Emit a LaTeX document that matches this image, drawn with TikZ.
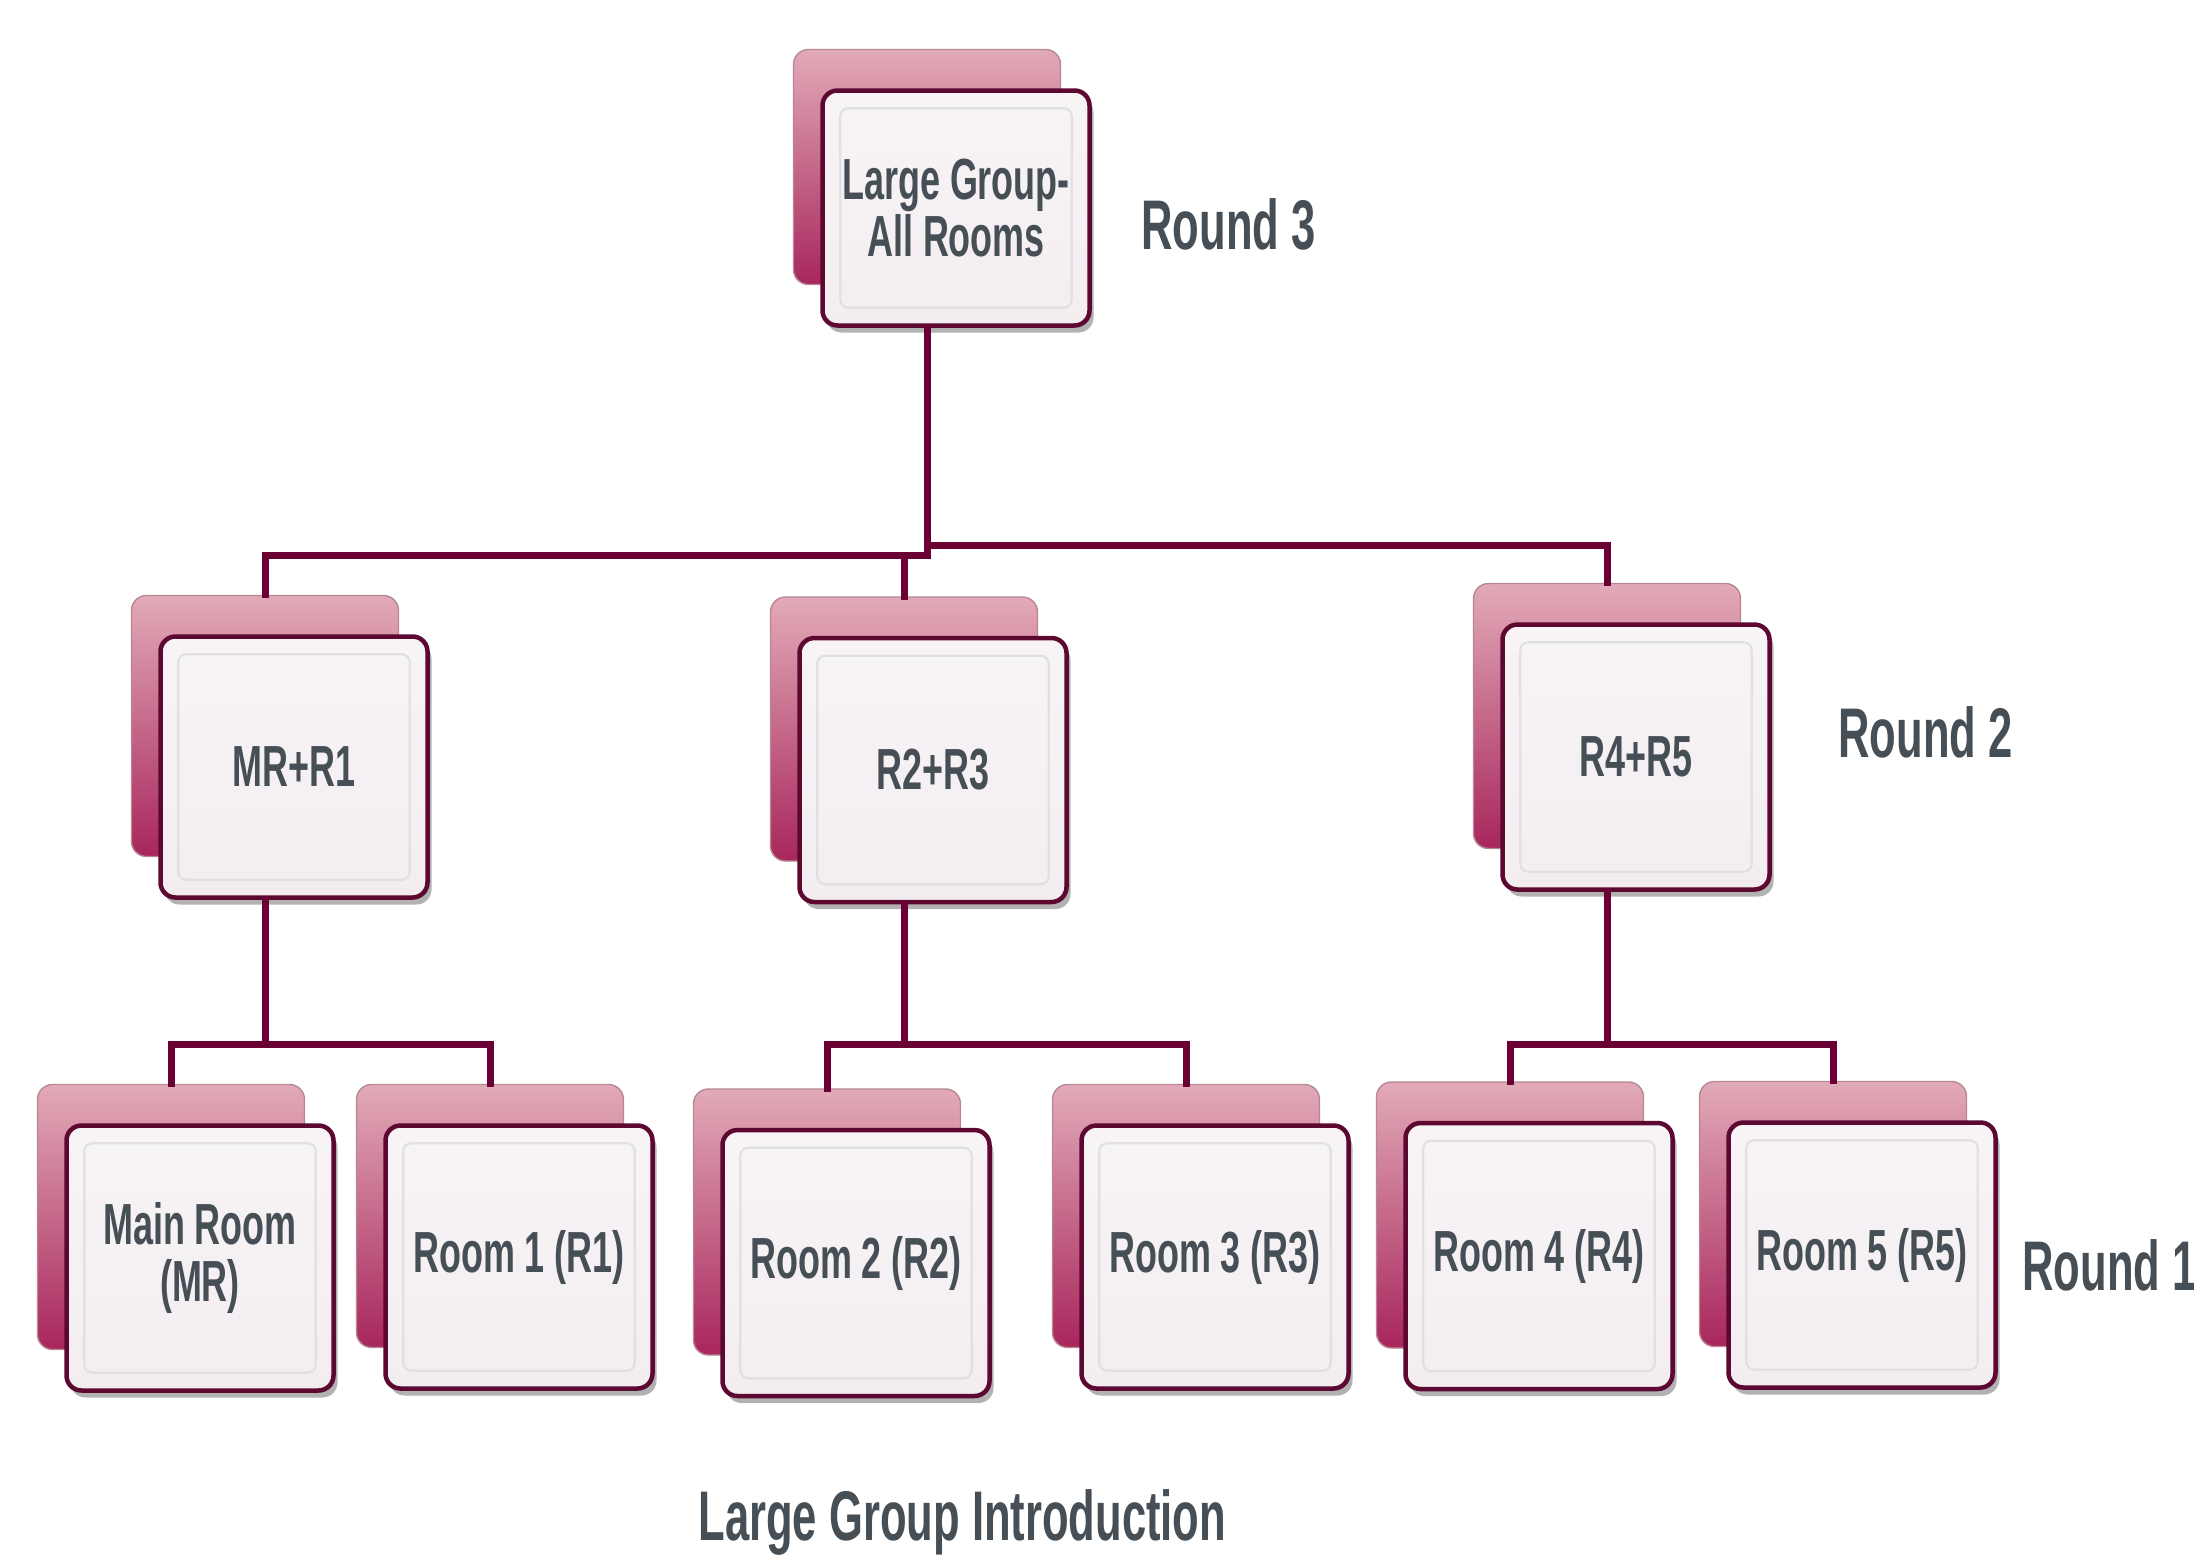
\documentclass[tikz,border=0pt]{standalone}
\usepackage{fontspec}
\setmainfont{Liberation Sans}[FakeStretch=0.62]
\usetikzlibrary{calc,shadows}
\definecolor{wine}{RGB}{106,0,51}
\definecolor{boxline}{RGB}{92,8,48}
\definecolor{rosetop}{RGB}{226,170,184}
\definecolor{rosebot}{RGB}{168,38,92}
\definecolor{paper}{RGB}{243,237,240}
\definecolor{ink}{RGB}{70,78,86}
\def\roombox(#1)(#2:#3)#4{% name, centre : height, label
  \node[backbox, minimum height=#3cm] (#1-back) at ($(#2)+(-0.29,0.41)$) {};
  \node[frontbox, minimum height=#3cm] (#1) at (#2) {#4};
  \draw[bevel] ($(#1.south west)+(0.2,0.2)$) rectangle ($(#1.north east)+(-0.2,-0.2)$);
}

\begin{document}
\begin{tikzpicture}[
    backbox/.style={rectangle, rounded corners=0.15cm, minimum width=2.67cm,
      top color=rosetop, middle color=rosetop, bottom color=rosebot, draw=rosetop!80!black, line width=0.4pt},
    frontbox/.style={rectangle, rounded corners=0.15cm, minimum width=2.67cm, align=center,
      draw=boxline, line width=0.045cm, top color=paper!60!white, bottom color=paper,
      drop shadow={shadow xshift=0.04cm, shadow yshift=-0.07cm, opacity=0.3, fill=black},
      text=ink, font=\bfseries\fontsize{16.5}{16}\selectfont},
    bevel/.style={draw=black!12, line width=0.6pt, rounded corners=0.08cm},
    link/.style={draw=wine, line width=0.07cm, line cap=rect},
    roundlabel/.style={anchor=base west, text=ink, font=\bfseries\fontsize{20}{22}\selectfont}
  ]
  \useasboundingbox (0,0) rectangle (21.94,-15.58);

  % boxes
  \roombox(top)(9.56,-2.08:2.35){Large Group-\\All Rooms}
  \roombox(mr1)(2.94,-7.67:2.61){MR+R1}
  \roombox(r23)(9.33,-7.70:2.64){R2+R3}
  \roombox(r45)(16.36,-7.57:2.65){R4+R5}
  \roombox(mr)(2.00,-12.58:2.65){Main Room\\(MR)}
  \roombox(r1)(5.19,-12.57:2.63){Room 1 (R1)}
  \roombox(r2)(8.56,-12.63:2.66){Room 2 (R2)}
  \roombox(r3)(12.15,-12.57:2.63){Room 3 (R3)}
  \roombox(r4)(15.39,-12.56:2.66){Room 4 (R4)}
  \roombox(r5)(18.62,-12.55:2.65){Room 5 (R5)}

  % round 3 -> round 2
  \coordinate (bus2) at (0,-5.55);
  \coordinate (bus2r) at (0,-5.45);
  \draw[link] (top-back.north |- top.south) -- (top-back.north |- bus2);
  \draw[link] (mr1-back.north) |- (top-back.north |- bus2);
  \draw[link] (r23-back.north) -- (r23-back.north |- bus2);
  \draw[link] (r45-back.north) |- (top-back.north |- bus2r);

  % round 2 -> round 1
  \coordinate (bus1) at (0,-10.44);
  \draw[link] (mr1-back.north |- mr1.south) -- (mr1-back.north |- bus1);
  \draw[link] (mr-back.north) |- (r1-back.north |- bus1) -- (r1-back.north);
  \draw[link] (r23-back.north |- r23.south) -- (r23-back.north |- bus1);
  \draw[link] (r2-back.north) |- (r3-back.north |- bus1) -- (r3-back.north);
  \draw[link] (r45-back.north |- r45.south) -- (r45-back.north |- bus1);
  \draw[link] (r4-back.north) |- (r5-back.north |- bus1) -- (r5-back.north);

  % labels
  \node[roundlabel] (round3) at (11.29,-2.49) {Round 3};
  \node[roundlabel] (round2) at (18.26,-7.57) {Round 2};
  \node[roundlabel] (round1) at (20.10,-12.90) {Round 1};
  \node[roundlabel] (title) at (6.86,-15.40) {Large Group Introduction};
\end{tikzpicture}
\end{document}
